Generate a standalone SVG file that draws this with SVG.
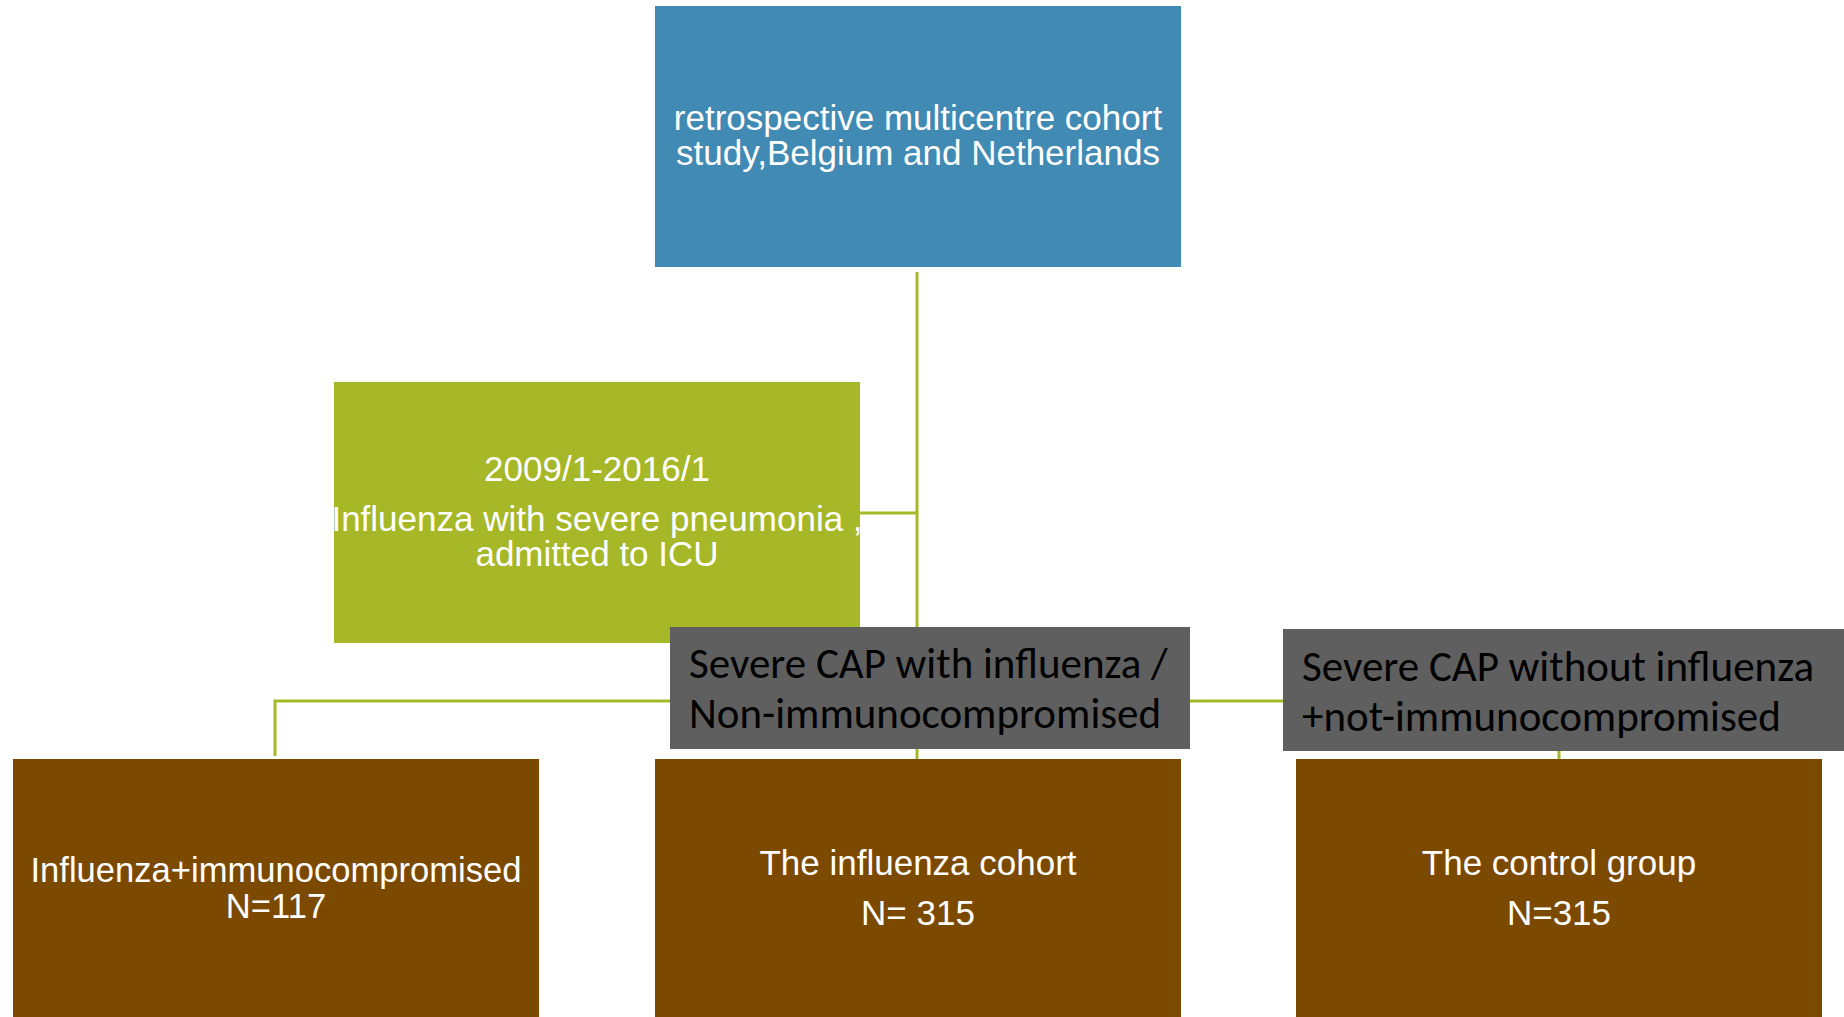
<svg xmlns="http://www.w3.org/2000/svg" width="1844" height="1017" viewBox="0 0 1844 1017">
<style>
.conn{stroke:#A6B727;stroke-width:3;fill:none}
.box{stroke:none}
.t{font-family:"Liberation Sans",Arial,sans-serif;font-size:35px;fill:#ffffff;text-anchor:middle}
.g{font-family:Carlito,Lato,"Liberation Sans",sans-serif;font-size:43px;fill:#000000}
</style>
<rect width="1844" height="1017" fill="#ffffff"/>
<g id="connectors">
<line class="conn" x1="917" y1="272" x2="917" y2="759"/>
<line class="conn" x1="860" y1="513" x2="917" y2="513"/>
<polyline class="conn" points="275,756 275,701 1559,701 1559,759"/>
</g>
<g id="n-study">
<rect class="box" x="655" y="6" width="526" height="261" fill="#418AB3"/>
<text class="t" x="918" y="130">retrospective multicentre cohort</text>
<text class="t" x="918" y="165">study,Belgium and Netherlands</text>
</g>
<g id="n-period">
<rect class="box" x="334" y="382" width="526" height="261" fill="#A6B727"/>
<text class="t" x="597" y="481">2009/1-2016/1</text>
<text class="t" x="597" y="531">Influenza with severe pneumonia ,</text>
<text class="t" x="597" y="566">admitted to ICU</text>
</g>
<g id="n-cap-flu">
<rect class="box" x="670" y="627" width="520" height="122" fill="#5F5F5F"/>
<text class="g" x="689" y="678">Severe CAP with influenza /</text>
<text class="g" x="689" y="728">Non-immunocompromised</text>
</g>
<g id="n-cap-noflu">
<rect class="box" x="1283" y="629" width="561" height="122" fill="#5F5F5F"/>
<text class="g" x="1302" y="681">Severe CAP without influenza</text>
<text class="g" x="1302" y="731">+not-immunocompromised</text>
</g>
<g id="n-immuno">
<rect class="box" x="13" y="759" width="526" height="258" fill="#7B4900"/>
<text class="t" x="276" y="882" style="font-size:34.6px">Influenza+immunocompromised</text>
<text class="t" x="276" y="918" style="font-size:34.6px">N=117</text>
</g>
<g id="n-cohort">
<rect class="box" x="655" y="759" width="526" height="258" fill="#7B4900"/>
<text class="t" x="918" y="875">The influenza cohort</text>
<text class="t" x="918" y="925">N= 315</text>
</g>
<g id="n-control">
<rect class="box" x="1296" y="759" width="526" height="258" fill="#7B4900"/>
<text class="t" x="1559" y="875">The control group</text>
<text class="t" x="1559" y="925">N=315</text>
</g>
</svg>
